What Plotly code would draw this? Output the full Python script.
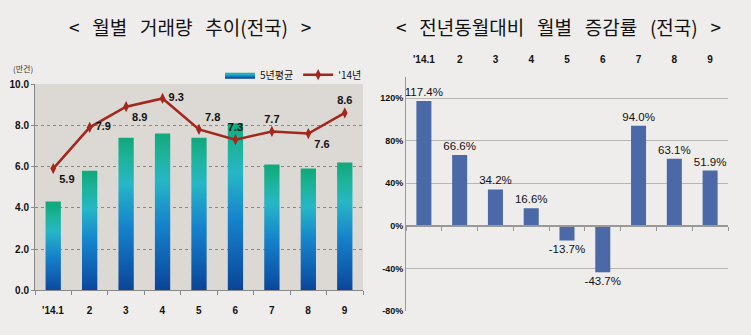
import plotly.graph_objects as go

# ---- data ----
months = ["'14.1", "2", "3", "4", "5", "6", "7", "8", "9"]
avg5 = [4.3, 5.8, 7.4, 7.6, 7.4, 8.1, 6.1, 5.9, 6.2]
y14 = [5.9, 7.9, 8.9, 9.3, 7.8, 7.3, 7.7, 7.6, 8.6]
yoy = [117.4, 66.6, 34.2, 16.6, -13.7, -43.7, 94.0, 63.1, 51.9]
left_yticks = [0, 2, 4, 6, 8, 10]
right_yticks = [-80, -40, 0, 40, 80, 120]

W, H = 751, 335
NUM = "Liberation Sans, Arial, sans-serif"
KR = "Noto Sans CJK KR, sans-serif"

idx = list(range(len(months)))
bounds = [i - 0.5 for i in range(len(months) + 1)]

# domains (paper fractions)
lx = [35 / W, 363 / W]
ly = [(H - 295) / H, (H - 81.7) / H]
rx = [406 / W, 728 / W]
ry = [(H - 316.3) / H, (H - 74.3) / H]
rrange = [-80, 140]

fig = go.Figure()

grad = [[0.0, "#0a3d8c"], [0.15, "#0d55a8"], [0.45, "#1683cc"],
        [0.72, "#27b6c6"], [0.88, "#1db39a"], [1.0, "#12a97f"]]
hw = 0.21
for i, v in zip(idx, avg5):
    fig.add_trace(go.Scatter(
        x=[i - hw, i - hw, i + hw, i + hw], y=[0, v, v, 0],
        mode="lines", fill="toself", line=dict(width=0),
        fillgradient=dict(type="vertical", colorscale=grad, start=0, stop=v),
        name="5년평균", legendgroup="avg", showlegend=(i == 0),
        hoverinfo="skip", xaxis="x", yaxis="y"))

fig.add_trace(go.Scatter(
    x=idx, y=y14, mode="lines+markers+text", name="'14년",
    line=dict(color="#a3271c", width=2.5),
    marker=dict(symbol="diamond-tall", size=8, color="#a3271c"),
    text=[f"{v:.1f}" for v in y14],
    textposition=["bottom right", "middle right", "bottom right", "middle right",
                  "top right", "top center", "top center", "bottom right", "top center"],
    textfont=dict(family=NUM, size=11, color="#111", weight="bold"),
    cliponaxis=False, xaxis="x", yaxis="y"))

fig.add_trace(go.Bar(
    x=idx, y=yoy, width=0.42, marker=dict(color="#4a69a6", line=dict(width=0)),
    text=[f"{v:.1f}%" for v in yoy], textposition="outside", constraintext="none",
    textangle=0, textfont=dict(family=NUM, size=11.5, color="#111"),
    cliponaxis=False, showlegend=False, xaxis="x2", yaxis="y2"))

# invisible trace for zero-line axis
fig.add_trace(go.Scatter(x=[0], y=[0], mode="markers", marker=dict(opacity=0),
                         showlegend=False, hoverinfo="skip", xaxis="x3", yaxis="y2"))

zero_pos = ry[0] + (0 - rrange[0]) / (rrange[1] - rrange[0]) * (ry[1] - ry[0])

tickf = dict(family=NUM, size=10, color="#111", weight="bold")

fig.update_layout(
    width=W, height=H, margin=dict(l=0, r=0, t=0, b=0),
    paper_bgcolor="#efedeb", plot_bgcolor="rgba(0,0,0,0)",
    font=dict(family=KR, color="#111"),
    showlegend=True,
    legend=dict(orientation="h", x=220 / W, y=(H - 57) / H, xanchor="left", yanchor="top",
                bgcolor="rgba(0,0,0,0)", font=dict(family=KR, size=10, color="#111"),
                tracegroupgap=0),
    xaxis=dict(domain=lx, range=[-0.5, 8.5], tickvals=bounds, ticktext=months + [""],
               ticklabelshift=18, ticklabelstandoff=7, ticks="outside", ticklen=4,
               tickcolor="#888",
               showline=True, linecolor="#888", linewidth=1, showgrid=False, zeroline=False,
               tickfont=tickf, anchor="y"),
    yaxis=dict(domain=ly, range=[0, 10], tickvals=left_yticks,
               ticktext=[f"{v:.1f}" for v in left_yticks],
               showgrid=True, gridcolor="#8a8784", griddash="dot", gridwidth=1,
               showline=True, linecolor="#888", ticks="outside", ticklen=3, tickcolor="#888",
               zeroline=False, tickfont=tickf, anchor="x"),
    xaxis2=dict(domain=rx, range=[-0.5, 8.5], side="top", tickvals=idx, ticktext=months,
                ticks="outside", ticklen=9, tickcolor="rgba(0,0,0,0)",
                showline=False, showgrid=False, zeroline=False, anchor="y2",
                tickfont=tickf),
    yaxis2=dict(domain=ry, range=rrange, tickvals=right_yticks,
                ticktext=[f"{v}%" for v in right_yticks],
                showgrid=True, gridcolor="#b8b6b3", gridwidth=1, zeroline=False,
                showline=True, linecolor="#999", anchor="x2",
                tickfont=dict(family=NUM, size=9, color="#111", weight="bold")),
    xaxis3=dict(overlaying="x2", anchor="free", position=zero_pos, range=[-0.5, 8.5],
                tickvals=bounds, showticklabels=False, ticks="outside", ticklen=4,
                tickcolor="#999", showline=True, linecolor="#999", linewidth=1.5,
                showgrid=False, zeroline=False),
    shapes=[dict(type="rect", xref="x domain", yref="y domain", x0=0, x1=1, y0=0, y1=1,
                 fillcolor="#dcd8d4", line=dict(width=0), layer="below")],
    annotations=[
        dict(text="<   월별   거래량   추이(전국)   >", x=190 / W, y=(H - 22) / H, xref="paper",
             yref="paper", xanchor="center", yanchor="middle",
             showarrow=False, font=dict(family=KR, size=19, color="#111")),
        dict(text="<   전년동월대비   월별   증감률   (전국)   >", x=558 / W, y=(H - 22) / H,
             xref="paper", yref="paper", xanchor="center", yanchor="middle",
             showarrow=False, font=dict(family=KR, size=19, color="#111")),
        dict(text="(만건)", x=23 / W, y=(H - 66) / H, xref="paper", yref="paper",
             xanchor="center", yanchor="middle",
             showarrow=False, font=dict(family=KR, size=8, color="#333")),
    ],
)

fig.write_html("out.html")
